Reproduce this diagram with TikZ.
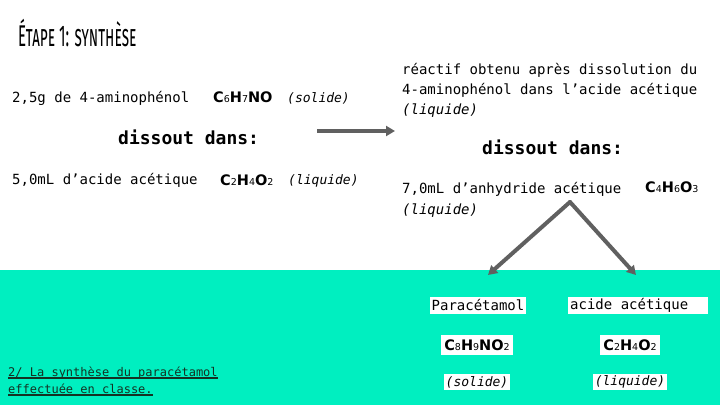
\documentclass[tikz,border=0pt]{standalone}
\usepackage{fontspec}
\usepackage{graphicx}
\usetikzlibrary{arrows.meta}
\newfontfamily\monof{DejaVu Sans Mono}
\newfontfamily\chemf{DejaVu Sans}
\newfontfamily\titlef[Letters=SmallCaps]{Fira Sans}
\definecolor{band}{RGB}{0,239,192}
\definecolor{arrowgray}{RGB}{96,96,96}
\definecolor{notegreen}{RGB}{20,50,35}
\newcommand\dg[1]{\raisebox{-0.5pt}{\fontsize{9.5}{10}\selectfont\mdseries #1}}
\tikzset{
  mono/.style={font=\monof\fontsize{14}{20}\selectfont, anchor=west, inner sep=0pt},
  monoit/.style={font=\monof\itshape\fontsize{13}{16}\selectfont, anchor=west, inner sep=0pt},
  big/.style={font=\monof\bfseries\fontsize{18}{20}\selectfont, anchor=west, inner sep=0pt},
  chem/.style={font=\chemf\bfseries\fontsize{14.5}{16}\selectfont, anchor=west, inner sep=0pt},
  wbox/.style={fill=white, inner sep=2pt},
  arr/.style={draw=arrowgray, line width=4pt, -{Triangle[length=9pt,width=10pt]}},
}
\begin{document}
\begin{tikzpicture}[x=1pt,y=-1pt]
\useasboundingbox (0,0) rectangle (720,405);
\fill[band] (0,270) rectangle (720,405);
% title
\node[anchor=west, inner sep=0pt, font=\titlef\fontsize{30}{30}\selectfont] (title) at (18,33) {\scalebox{0.5}[1]{Étape 1: synthèse}};
% left column
\node[mono] (amino) at (12,98) {2,5g de 4-aminophénol};
\node[chem] (c6) at (213,97) {C\dg{6}H\dg{7}NO};
\node[monoit] (sol1) at (287,98) {(solide)};
\node[big] (diss1) at (118,137) {dissout dans:};
\node[mono] (acet) at (12,180) {5,0mL d’acide acétique};
\node[chem] (c2a) at (220,180) {C\dg{2}H\dg{4}O\dg{2}};
\node[monoit] (liq1) at (288,181) {(liquide)};
% arrow
\coordinate (a1) at (317,131);
\coordinate (a2) at (395,131);
\draw[arr] (a1) -- (a2);
% right column
\node[mono, anchor=base west, align=left] (react) at (402,114) {réactif obtenu après dissolution du\\4-aminophénol dans l’acide acétique\\{\itshape (liquide)}};
\node[big] (diss2) at (482,147) {dissout dans:};
\node[mono, anchor=base west, align=left, font=\monof\fontsize{14}{21}\selectfont] (anhy) at (402,214) {7,0mL d’anhydride acétique\\{\itshape (liquide)}};
\node[chem] (c4) at (645,187) {C\dg{4}H\dg{6}O\dg{3}};
% split arrows
\coordinate (apex) at (570,202);
\coordinate (lt) at (488,275);
\coordinate (rt) at (636,275);
\draw[arr, line cap=round] (apex) -- (lt);
\draw[arr, line cap=round] (apex) -- (rt);
% products
\node[wbox, mono, anchor=center, minimum width=96pt, minimum height=17pt] (para) at (478,305) {Paracétamol};
\node[wbox, mono, anchor=west, minimum height=17pt, inner xsep=2pt] (acide) at (568,305) {\makebox[136pt][l]{acide acétique}};
\node[wbox, chem, anchor=center, inner xsep=3pt, inner ysep=4pt] (c8) at (477,345) {C\dg{8}H\dg{9}NO\dg{2}};
\node[wbox, chem, anchor=center, inner xsep=3pt, inner ysep=4pt] (c2b) at (630,345) {C\dg{2}H\dg{4}O\dg{2}};
\node[wbox, monoit, anchor=center, inner sep=2pt] (sol2) at (477,382) {(solide)};
\node[wbox, monoit, anchor=center, inner sep=2pt] (liq2) at (630,382) {(liquide)};
% note
\node[anchor=west, inner sep=0pt, font=\monof\fontsize{12}{14}\selectfont, text=notegreen] (n1) at (8,373) {2/ La synthèse du paracétamol };
\node[anchor=west, inner sep=0pt, font=\monof\fontsize{12}{14}\selectfont, text=notegreen] (n2) at (8,389) {effectuée en classe.};
\draw[notegreen, line width=1.5pt] ([yshift=-1.5pt]n1.base west) -- ([yshift=-1.5pt]n1.base east);
\draw[notegreen, line width=1.5pt] ([yshift=-1.5pt]n2.base west) -- ([yshift=-1.5pt]n2.base east);
\end{tikzpicture}
\end{document}
